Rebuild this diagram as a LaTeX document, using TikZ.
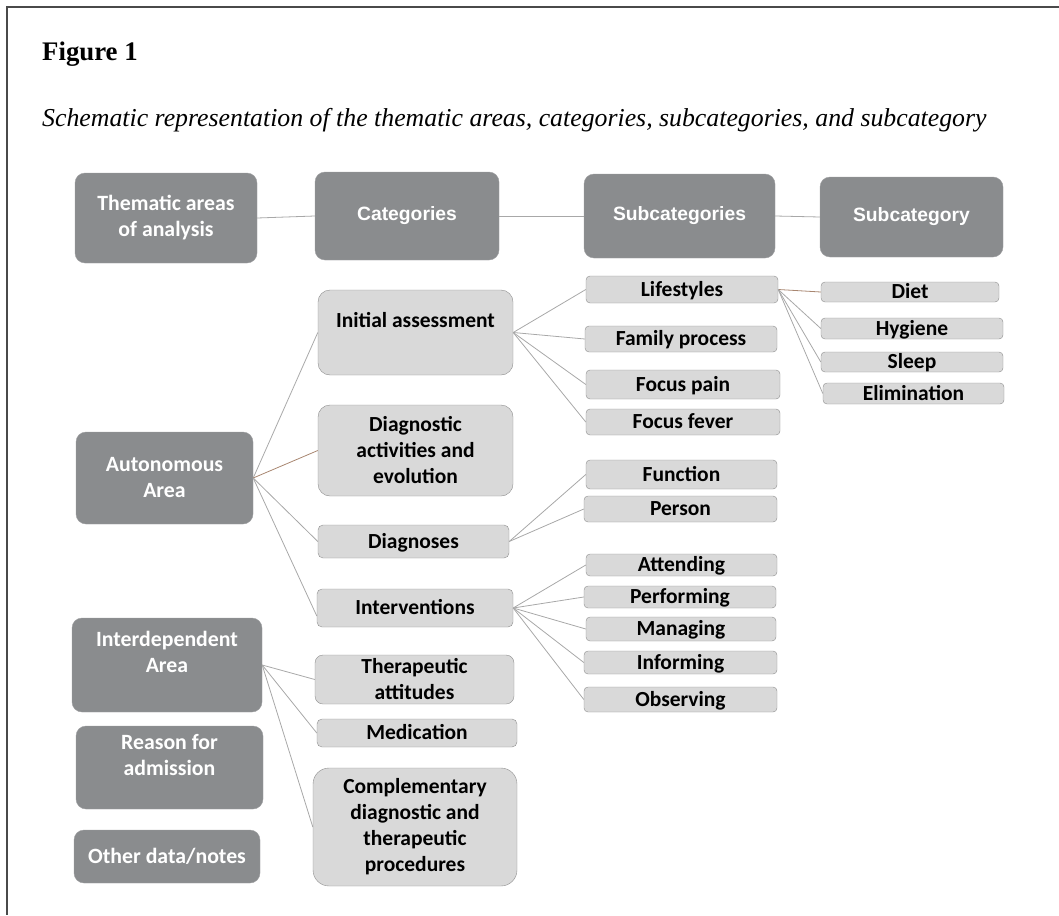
\documentclass[tikz,border=0pt]{standalone}
\usepackage{fontspec}
\setmainfont{Liberation Serif}
\newfontfamily\calibri{Carlito}
\newfontfamily\arialb{Liberation Sans}
\usepackage{tikz}
\usepackage{xcolor}
\definecolor{darkbox}{HTML}{8A8C8E}
\definecolor{lightbox}{HTML}{D9D9D9}
\definecolor{boxedge}{HTML}{8E8E8E}
\definecolor{linkgray}{HTML}{A8A8A8}
\definecolor{linkbrown}{HTML}{A88670}
\definecolor{framegray}{HTML}{4A4A4A}
\tikzstyle{head} = [rectangle, rounded corners=10pt, fill=darkbox, draw=darkbox!85!white, text=white, inner sep=0pt, align=center, font=\arialb\bfseries\fontsize{19.3}{24}\selectfont]
\tikzstyle{area} = [head, font=\calibri\bfseries\fontsize{21.8}{26}\selectfont]
\tikzstyle{cat} = [rectangle, rounded corners=12pt, fill=lightbox, draw=boxedge, text=black, inner sep=0pt, align=center, font=\calibri\bfseries\fontsize{21.5}{26}\selectfont]
\tikzstyle{catline} = [cat, rounded corners=5pt, text height=13pt, text depth=0pt]
\tikzstyle{sub} = [catline, rounded corners=4pt]
\tikzstyle{link} = [draw=linkgray, line width=0.8pt]

\begin{document}
\begin{tikzpicture}[x=1pt, y=-1pt]
\useasboundingbox (0,0) rectangle (1059,915);

% frame and titles
\draw[framegray, line width=2pt] (1059,7) -- (7,7) -- (7,915);
\node[anchor=base west, inner sep=0pt, font=\bfseries\fontsize{26.8}{32}\selectfont] (fig) at (42,61) {Figure 1};
\node[anchor=base west, inner sep=0pt, font=\itshape\fontsize{25.8}{31}\selectfont] (caption) at (42,127) {Schematic representation of the thematic areas, categories, subcategories, and subcategory};

% header row
\node[area, minimum width=182, minimum height=90] (thematic) at (166,218) {Thematic areas\\of analysis};
\node[head, minimum width=184, minimum height=88] (categories) at (407,216) {Categories};
\node[head, minimum width=191, minimum height=84] (subcats) at (679.5,216) {Subcategories};
\node[head, minimum width=183, minimum height=80] (subcat) at (911.5,217) {Subcategory};

% thematic areas
\node[area, minimum width=177, minimum height=92] (auto) at (164.5,478) {Autonomous\\Area};
\node[area, minimum width=190, minimum height=94] (interdep) at (167,665) {Interdependent\\Area\\~};
\node[area, minimum width=187, minimum height=83] (reason) at (169.5,767.5) {Reason for\\admission\\~};
\node[area, minimum width=186, minimum height=53] (other) at (167,856.5) {Other data/notes};

% categories
\node[cat, minimum width=195, minimum height=85] (init) at (415.5,332.5) {Initial assessment\\~};
\node[cat, minimum width=195, minimum height=91] (diagact) at (415.5,450.5) {Diagnostic\\activities and\\evolution};
\node[catline, minimum width=191, minimum height=33] (diagn) at (413.5,541.5) {Diagnoses};
\node[catline, minimum width=196, minimum height=38] (interv) at (415,608) {Interventions};
\node[cat, rounded corners=8pt, minimum width=199, minimum height=49] (therap) at (414.5,679.5) {Therapeutic\\attitudes};
\node[catline, minimum width=200, minimum height=28] (medic) at (417,733) {Medication};
\node[cat, rounded corners=16pt, minimum width=204, minimum height=118] (compl) at (415,827) {Complementary\\diagnostic and\\therapeutic\\procedures};

% subcategories
\node[sub, minimum width=192, minimum height=27] (lifest) at (682,289.5) {Lifestyles};
\node[sub, minimum width=192, minimum height=26] (family) at (681,339) {Family process};
\node[sub, minimum width=194, minimum height=29] (fpain) at (683,384.5) {Focus pain};
\node[sub, minimum width=194, minimum height=26] (ffever) at (683,422) {Focus fever};
\node[sub, minimum width=191, minimum height=29] (function) at (681.5,474.5) {Function};
\node[sub, minimum width=193, minimum height=26] (person) at (680.5,509) {Person};
\node[sub, minimum width=191, minimum height=22] (attend) at (681.5,565) {Attending};
\node[sub, minimum width=192, minimum height=22] (perform) at (680,597) {Performing};
\node[sub, minimum width=190, minimum height=24] (manag) at (681,629) {Managing};
\node[sub, minimum width=193, minimum height=23] (inform) at (680.5,662.5) {Informing};
\node[sub, minimum width=193, minimum height=25] (observ) at (680.5,699.5) {Observing};

% subcategory
\node[sub, minimum width=178, minimum height=20] (diet) at (910,292) {Diet};
\node[sub, minimum width=182, minimum height=21] (hyg) at (912,328.5) {Hygiene};
\node[sub, minimum width=182, minimum height=20] (sleep) at (912,362) {Sleep};
\node[sub, minimum width=181, minimum height=21] (elim) at (913.5,393.5) {Elimination};

% connectors
\draw[link] (thematic.east) -- (categories.west);
\draw[link] (categories.east) -- (subcats.west);
\draw[link] (subcats.east) -- (subcat.west);

\foreach \t in {init,diagn} \draw[link] (auto.east) -- (\t.west);
\draw[link, draw=linkbrown] (auto.east) -- (diagact.west);
\draw[link] (auto.east) -- ([yshift=-8pt]interv.west);
\foreach \t in {therap,medic,compl} \draw[link] (interdep.east) -- (\t.west);

\foreach \t in {lifest,family,fpain,ffever} \draw[link] (init.east) -- (\t.west);
\foreach \t in {function,person} \draw[link] (diagn.east) -- (\t.west);
\foreach \t in {attend,perform,manag,inform,observ} \draw[link] (interv.east) -- (\t.west);

\draw[link, draw=linkbrown] (lifest.east) -- (diet.west);
\foreach \t in {hyg,sleep,elim} \draw[link] (lifest.east) -- (\t.west);

\end{tikzpicture}
\end{document}
